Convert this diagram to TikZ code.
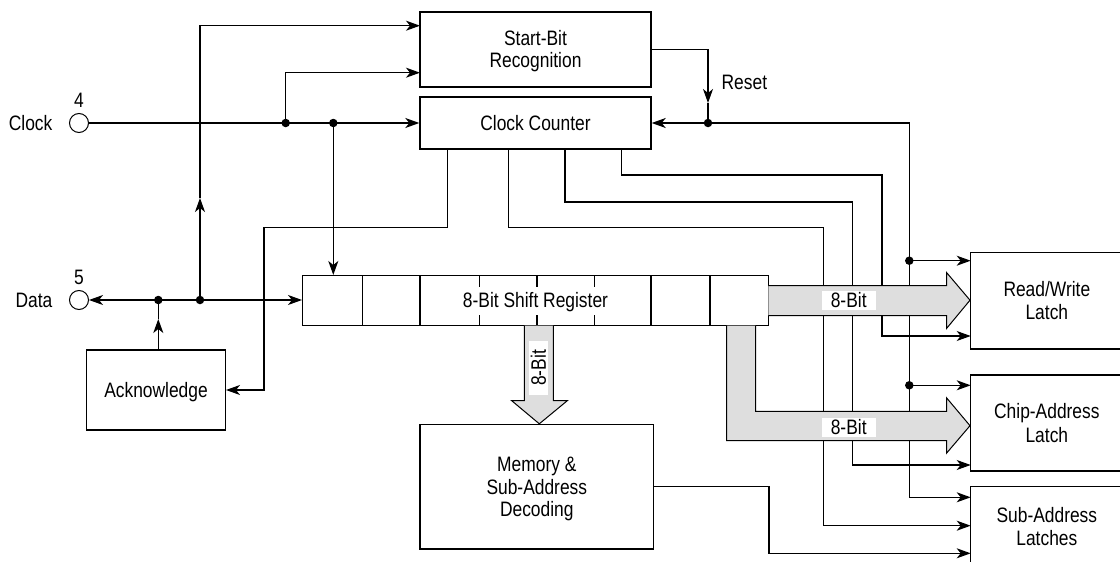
\documentclass[tikz,border=0pt]{standalone}
\usepackage{fontspec}
\setmainfont{Liberation Sans}
\usepackage{graphicx}
\usetikzlibrary{arrows.meta}
\definecolor{busgray}{RGB}{222,222,222}
\newcommand\fs{\fontsize{17.4}{18.7}\selectfont}
\newcommand\tx[1]{\scalebox{1}[1.2]{\setbox\strutbox=\hbox{\vrule height15.6pt depth3.1pt width0pt}\begin{tabular}{@{}c@{}}#1\end{tabular}}}
\newcommand\tl[1]{\scalebox{1}[1.2]{#1}}
\begin{document}
\begin{tikzpicture}[x=1pt,y=-1pt,line width=1.3pt,
  box/.style={draw,fill=white,inner sep=0pt,font=\fs,line width=1.4pt},
  arr/.style={-{Stealth[length=14pt,width=10pt,inset=4pt]}},
  dot/.style={circle,fill,inner sep=0pt,minimum size=8.5pt},
  pin/.style={circle,draw,fill=white,inner sep=0pt,minimum size=19pt,line width=1pt},
  lbl/.style={font=\fs,inner sep=0pt},
  buslbl/.style={fill=white,font=\fs,inner sep=0pt,minimum width=54pt,minimum height=19pt}]
\useasboundingbox (0,0) rectangle (1120,562);

% blocks
\node[box,minimum width=231pt,minimum height=75pt] (sb) at (535.5,49.5) {\tx{Start-Bit\\Recognition}};
\node[box,minimum width=231pt,minimum height=52pt] (cc) at (535.5,123) {\tx{Clock Counter}};
\node[box,minimum width=465.6pt,minimum height=50pt] (sr) at (535.5,300.7) {\tx{8-Bit Shift Register}};
\node[box,minimum width=138.6pt,minimum height=80pt] (ack) at (156,390) {\tx{Acknowledge}};
\node[box,minimum width=233.7pt,minimum height=124.7pt] (mem) at (536.8,486.7) {\tx{Memory \&\\Sub-Address\\Decoding}};
\node[box,minimum width=152.3pt,minimum height=96.7pt] (rw) at (1046.85,300.65) {\tx{Read/Write\\Latch}};
\node[box,minimum width=152.3pt,minimum height=96pt] (ca) at (1046.85,423) {\tx{Chip-Address\\Latch}};
\node[box,minimum width=152.3pt,minimum height=80pt] (sa) at (1046.85,526.7) {\tx{Sub-Address\\Latches}};

% shift register cell dividers
\foreach \xx in {362.3,420,651,710}
  \draw[line width=1.4pt] (sr.north west -| \xx,0) -- (sr.south west -| \xx,0);
\foreach \xx in {479.3,537,594.7}{
  \draw[line width=1.4pt] (\xx,275.7) -- (\xx,286.7);
  \draw[line width=1.4pt] (\xx,315) -- (\xx,325.7);}

% pins and labels
\node[pin] (clk) at (79,123) {};
\node[pin] (dat) at (79,300) {};
\node[lbl,anchor=east] (clkl) at (53,123) {\tx{Clock}};
\node[lbl] (clkn) at (79,100) {\tx{4}};
\node[lbl,anchor=east] (datl) at (53,300) {\tx{Data}};
\node[lbl] (datn) at (79,277) {\tx{5}};
\node[lbl,anchor=west] (rst) at (721,82) {\tx{Reset}};

% junction dots
\node[dot] (d1) at (285.7,123) {};
\node[dot] (d2) at (333.3,123) {};
\node[dot] (d3) at (158.3,300) {};
\node[dot] (d4) at (200,300) {};
\node[dot] (d5) at (708,123) {};
\node[dot] (d6) at (909.3,260.7) {};
\node[dot] (d7) at (909.3,385.3) {};

% named points
\coordinate (sbi1) at (420,25.7);
\coordinate (sbi2) at (420,72.7);
\coordinate (up) at (200,198);
\coordinate (rs) at (708,103);
\coordinate (ak) at (158.3,319);
\coordinate (c1) at (447.3,149);
\coordinate (c2) at (508.3,149);
\coordinate (c3) at (565,149);
\coordinate (c4) at (621.7,149);
\coordinate (rw1) at (970.7,260.7);
\coordinate (rw2) at (970.7,336);
\coordinate (ca1) at (970.7,385.3);
\coordinate (ca2) at (970.7,465);
\coordinate (sa1) at (970.7,497.3);
\coordinate (sa2) at (970.7,525.7);
\coordinate (sa3) at (970.7,553.3);

% connectors
\draw[arr] (clk) -- (cc);
\draw[arr] (d1.center) |- (sbi2);
\draw[arr] (d2.center) -- (d2 |- sr.north);
\draw[arr] (d3.center) -- (dat);
\draw[arr] (d3.center) -- (sr.west |- d3);
\draw[arr] (d4.center) -- (up);
\draw[arr] (up) |- (sbi1);
\draw[arr] (ack.north -| d3) -- (ak);
\draw (ak) -- (d3.center);
\draw[arr] (c1) |- (264,227.3) |- (ack.east);
\draw[arr] (c2) |- (823.3,227.3) |- (sa2);
\draw[arr] (c3) |- (852.7,202) |- (ca2);
\draw[arr] (c4) |- (882,175) |- (rw2);
\draw[arr] (sb.east) -| (rs);
\draw (rs) -- (d5.center);
\draw[arr] (d5.center) -- (cc.east);
\draw[arr] (d5.center) -- (909.3,123) |- (sa1);
\draw[arr] (d6.center) -- (rw1);
\draw[arr] (d7.center) -- (ca1);
\draw[arr] (mem.east) -- (769,486.7) |- (sa3);

% buses
\fill[busgray] (768.3,285.7) -- (946.7,285.7) -- (946.7,272.7) -- (970,300.2) -- (946.7,328.3) -- (946.7,315.7) -- (768.3,315.7) -- cycle;
\draw[line width=1pt,line join=miter] (768.3,285.7) -- (946.7,285.7) -- (946.7,272.7) -- (970,300.2) -- (946.7,328.3) -- (946.7,315.7) -- (768.3,315.7);
\fill[busgray] (524.3,325.7) -- (524.3,400.7) -- (511.7,400.7) -- (539.3,423.8) -- (567.3,400.7) -- (553.3,400.7) -- (553.3,325.7) -- cycle;
\draw[line width=1pt,line join=miter] (524.3,325.7) -- (524.3,400.7) -- (511.7,400.7) -- (539.3,423.8) -- (567.3,400.7) -- (553.3,400.7) -- (553.3,325.7);
\fill[busgray] (726.7,325.7) -- (726.7,440.7) -- (946.7,440.7) -- (946.7,453) -- (970,425.7) -- (946.7,398) -- (946.7,411.3) -- (755.7,411.3) -- (755.7,325.7) -- cycle;
\draw[line width=1pt,line join=miter] (726.7,325.7) -- (726.7,440.7) -- (946.7,440.7) -- (946.7,453) -- (970,425.7) -- (946.7,398) -- (946.7,411.3) -- (755.7,411.3) -- (755.7,325.7);

\node[buslbl] (bl1) at (848.7,300.5) {\tl{8-Bit}};
\node[buslbl,rotate=90] (bl2) at (538.5,368) {\tl{8-Bit}};
\node[buslbl] (bl3) at (848.7,427) {\tl{8-Bit}};
\end{tikzpicture}
\end{document}
